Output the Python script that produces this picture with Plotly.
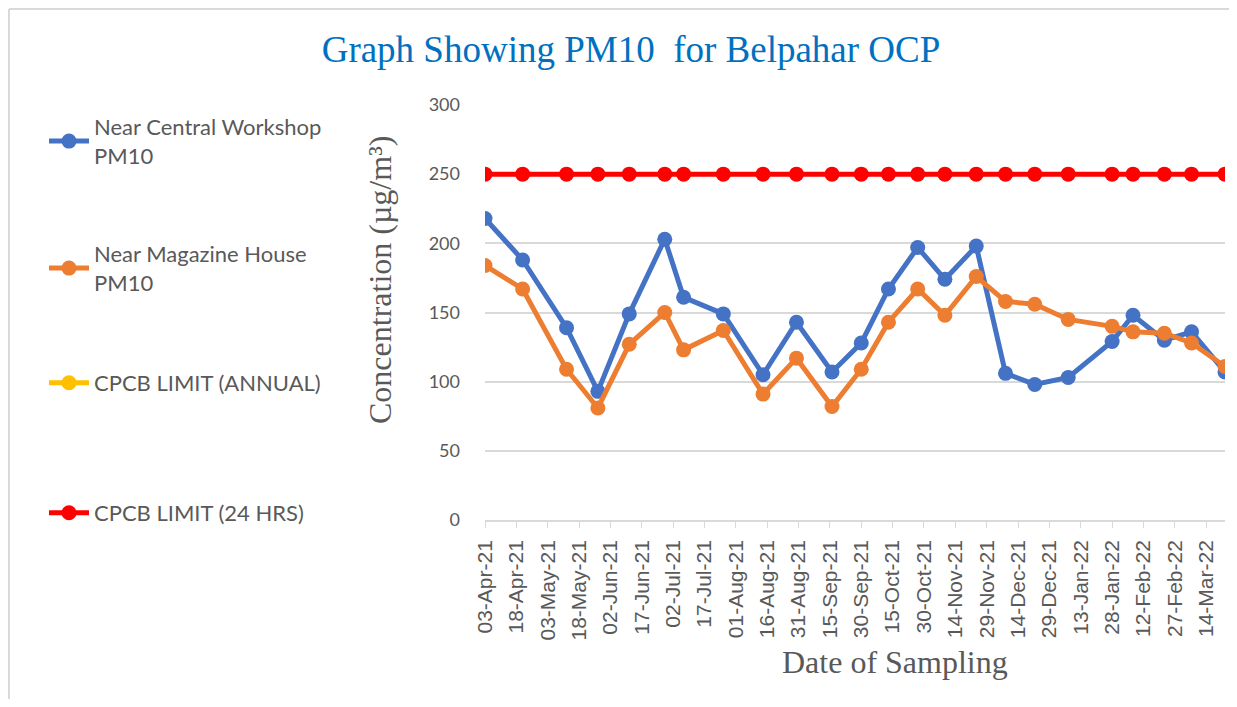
import plotly.graph_objects as go

dates = ["2021-04-03", "2021-04-21", "2021-05-12", "2021-05-27", "2021-06-11", "2021-06-28",
         "2021-07-07", "2021-07-26", "2021-08-14", "2021-08-30", "2021-09-16", "2021-09-30",
         "2021-10-13", "2021-10-27", "2021-11-09", "2021-11-24", "2021-12-08", "2021-12-22",
         "2022-01-07", "2022-01-28", "2022-02-07", "2022-02-22", "2022-03-07", "2022-03-23"]

central_workshop = [218, 188, 139, 93, 149, 203, 161, 149, 105, 143, 107, 128,
                    167, 197, 174, 198, 106, 98, 103, 129, 148, 130, 136, 107]
magazine_house = [184, 167, 109, 81, 127, 150, 123, 137, 91, 117, 82, 109,
                  143, 167, 148, 176, 158, 156, 145, 140, 136, 135, 128, 111]
cpcb_annual = [None] * len(dates)
cpcb_24hrs = [250] * len(dates)

series = [
    ("Near Central Workshop<br>PM10", central_workshop, "#4472C4", "legend"),
    ("Near Magazine House<br>PM10", magazine_house, "#ED7D31", "legend2"),
    ("CPCB LIMIT (ANNUAL)", cpcb_annual, "#FFC000", "legend3"),
    ("CPCB LIMIT (24 HRS)", cpcb_24hrs, "#FF0000", "legend4"),
]

# page body has an 8px margin on every side; keep the figure inside the
# window (no scrollbars) and work in window pixels
OFF = 8
W, H = 1237 - 2 * OFF, 707 - 2 * OFF
PL, PR, PT, PB = 485, 1225, 105, 520   # plot area in window pixels
PW, PH = PR - PL, PB - PT


def cx(px):
    return (px - OFF) / W


def cy(py):
    return 1 - (py - OFF) / H


def paper_x(px):
    return (px - PL) / PW


def paper_y(py):
    return (PB - py) / PH


fig = go.Figure()
for name, vals, color, lg in series:
    fig.add_trace(go.Scatter(
        x=dates, y=vals, name=name, mode="lines+markers",
        line=dict(color=color, width=5),
        marker=dict(color=color, size=15),
        legend=lg, showlegend=True,
    ))

gray = "#595959"
legend_font = dict(family="Lato", size=22, color=gray)
legend_common = dict(xref="container", yref="container", x=cx(44), xanchor="left",
                     yanchor="top", font=legend_font, bgcolor="rgba(0,0,0,0)",
                     itemwidth=40)
legend_tops = [106, 233, 362, 492]

border = dict(color="#D9D9D9", width=2)

fig.update_layout(
    width=W, height=H,
    margin=dict(l=PL - OFF, r=W - (PR - OFF), t=PT - OFF, b=H - (PB - OFF)),
    paper_bgcolor="white", plot_bgcolor="white",
    showlegend=True,
    title=dict(text="Graph Showing PM10  for Belpahar OCP",
               font=dict(family="Liberation Serif", size=37, color="#0070C0"),
               xref="container", yref="container",
               x=cx(631), xanchor="center", y=cy(49), yanchor="middle"),
    legend=dict(legend_common, y=cy(legend_tops[0])),
    legend2=dict(legend_common, y=cy(legend_tops[1])),
    legend3=dict(legend_common, y=cy(legend_tops[2])),
    legend4=dict(legend_common, y=cy(legend_tops[3])),
    xaxis=dict(
        type="date", range=["2021-04-03", "2022-03-23"],
        tick0="2021-04-03", dtick=15 * 86400000, tickformat="%d-%b-%y",
        tickangle=-90, tickfont=dict(family="Liberation Sans", size=21, color=gray),
        showgrid=False, showline=True, linecolor="#D9D9D9", linewidth=1.5,
        ticks="outside", ticklen=6, tickcolor="#D9D9D9", zeroline=False,
        ticklabelstandoff=4,
    ),
    yaxis=dict(
        range=[0, 300], dtick=50, showgrid=True, gridcolor="#D9D9D9", gridwidth=1.5,
        tickfont=dict(family="Lato", size=18, color=gray), showline=False,
        zeroline=False, ticklabelstandoff=24,
    ),
    annotations=[
        dict(text="Concentration (µg/m³)", xref="paper", yref="paper",
             x=paper_x(380), y=paper_y(280), textangle=-90,
             showarrow=False, xanchor="center", yanchor="middle",
             font=dict(family="Liberation Serif", size=32, color=gray)),
        dict(text="Date of Sampling", xref="paper", yref="paper",
             x=paper_x(895), y=paper_y(662),
             showarrow=False, xanchor="center", yanchor="middle",
             font=dict(family="Liberation Serif", size=32, color=gray)),
    ],
    shapes=[
        dict(type="line", xref="paper", yref="paper",
             x0=paper_x(9), x1=paper_x(9), y0=paper_y(715), y1=paper_y(9),
             line=border, layer="below"),
        dict(type="line", xref="paper", yref="paper",
             x0=paper_x(9), x1=paper_x(1260), y0=paper_y(9), y1=paper_y(9),
             line=border, layer="below"),
    ],
)

fig.write_html("out.html")
